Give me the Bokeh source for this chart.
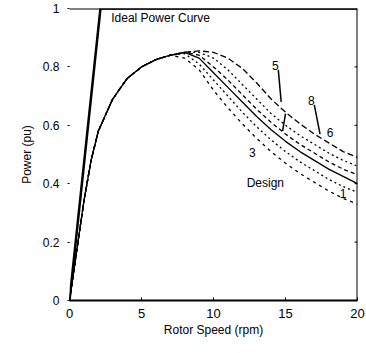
import math
from bokeh.plotting import figure
from bokeh.models import Span, FixedTicker, Label
from bokeh.embed import file_html
from bokeh.resources import INLINE

# ---- data ----
ideal_speed = [0, 2.15, 20]
ideal_power = [0, 1.0, 1.0]

speed = [0, 0.5, 1, 1.5, 2, 3, 4, 5, 6, 7, 8, 9, 10, 11, 12, 13, 14, 15, 16, 17, 18, 19, 20]
rise = [0, 0.17, 0.34, 0.48, 0.58, 0.69, 0.76, 0.80, 0.825, 0.84]
curve_5 = rise + [0.85, 0.855, 0.85, 0.83, 0.795, 0.745, 0.69, 0.645, 0.605, 0.57, 0.54, 0.51, 0.49]
curve_8 = rise + [0.85, 0.85, 0.83, 0.79, 0.74, 0.69, 0.64, 0.60, 0.565, 0.535, 0.505, 0.48, 0.46]
curve_6 = rise + [0.85, 0.84, 0.80, 0.755, 0.705, 0.655, 0.61, 0.57, 0.535, 0.505, 0.475, 0.45, 0.43]
curve_design = rise + [0.85, 0.83, 0.78, 0.73, 0.68, 0.63, 0.585, 0.545, 0.51, 0.48, 0.45, 0.425, 0.40]
curve_3 = rise + [0.845, 0.81, 0.755, 0.70, 0.645, 0.595, 0.55, 0.51, 0.475, 0.445, 0.415, 0.39, 0.37]
curve_1 = rise + [0.83, 0.79, 0.72, 0.66, 0.605, 0.555, 0.51, 0.47, 0.435, 0.405, 0.375, 0.35, 0.33]

x_ticks = [0, 5, 10, 15, 20]
y_ticks = [0, 0.2, 0.4, 0.6, 0.8, 1]
y_tick_labels = {0: "0", 0.2: "0.2", 0.4: "0.4", 0.6: "0.6", 0.8: "0.8", 1: "1"}
right_ticks = [0.2, 0.4, 0.6, 0.8]

FONT = "Liberation Sans"

p = figure(width=366, height=353, x_range=(0, 20), y_range=(0, 1),
           output_backend="svg", toolbar_location=None,
           min_border_left=69, min_border_right=9, min_border_top=8, min_border_bottom=53)
p.outline_line_color = None
p.xgrid.visible = False
p.ygrid.visible = False
p.background_fill_color = "white"

# bottom axis
xa = p.xaxis[0]
xa.ticker = FixedTicker(ticks=x_ticks)
xa.axis_line_width = 2
xa.axis_line_color = "black"
xa.major_tick_line_color = "black"
xa.major_tick_in = 3
xa.major_tick_out = 0
xa.minor_tick_line_color = None
xa.major_label_standoff = 8
xa.major_label_text_font = FONT
xa.major_label_text_font_size = "13px"
xa.major_label_text_color = "black"
xa.axis_label = "Rotor Speed (rpm)"
xa.axis_label_text_font = FONT
xa.axis_label_text_font_size = "12px"
xa.axis_label_text_font_style = "normal"
xa.axis_label_text_color = "black"
xa.axis_label_standoff = 2

# left axis
ya = p.yaxis[0]
ya.ticker = FixedTicker(ticks=y_ticks)
ya.major_label_overrides = y_tick_labels
ya.axis_line_color = None
ya.major_tick_line_color = "black"
ya.major_tick_in = 0
ya.major_tick_out = 2
ya.minor_tick_line_color = None
ya.major_label_standoff = 8
ya.major_label_text_font = FONT
ya.major_label_text_font_size = "12px"
ya.major_label_text_color = "black"
ya.axis_label = "Power (pu)"
ya.axis_label_text_font = FONT
ya.axis_label_text_font_size = "12px"
ya.axis_label_text_font_style = "normal"
ya.axis_label_text_color = "black"
ya.axis_label_standoff = 6

# right and top spines
p.add_layout(Span(location=20, dimension="height", line_color="black", line_width=2))
p.add_layout(Span(location=1, dimension="width", line_color="black", line_width=2))
# inward ticks on the right spine
p.ray(x=[20] * len(right_ticks), y=right_ticks, length=3, length_units="screen",
      angle=math.pi, line_color="black", line_width=1)

# curves
p.line(ideal_speed, ideal_power, line_color="black", line_width=2.5)
styles = [
    (curve_5, "6 3", 1.3),
    (curve_8, "2 3", 1.3),
    (curve_6, "4 3", 1.3),
    (curve_design, "solid", 1.3),
    (curve_3, "2 3", 1.3),
    (curve_1, "3 4", 1.3),
]
for ys, dash, w in styles:
    p.line(speed, ys, line_color="black", line_width=w, line_dash=dash)

# labels
lab_kw = dict(text_font=FONT, text_font_size="12px", text_color="black")
p.add_layout(Label(x=2.9, y=0.99, text="Ideal Power Curve", text_baseline="top", **lab_kw))
label_x = [14.3, 16.8, 18.1, 12.7, 13.6, 19.0]
label_y = [0.79, 0.67, 0.56, 0.49, 0.38, 0.35]
label_t = ["5", "8", "6", "3", "Design", "1"]
for lx, ly, lt in zip(label_x, label_y, label_t):
    p.add_layout(Label(x=lx, y=ly, text=lt, text_align="center", **lab_kw))

# leader lines
lead_x0 = [14.5, 17.0, 14.8]
lead_y0 = [0.79, 0.67, 0.58]
lead_x1 = [14.7, 17.4, 15.0]
lead_y1 = [0.68, 0.57, 0.64]
p.segment(lead_x0, lead_y0, lead_x1, lead_y1, line_color="black", line_width=1.5)

open("out.html", "w").write(file_html(p, INLINE))
